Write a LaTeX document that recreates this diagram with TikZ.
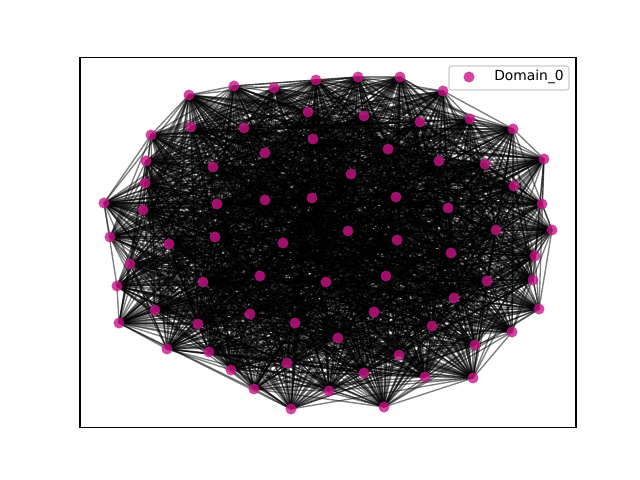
\documentclass[tikz,border=0pt]{standalone}
\usepackage{fontspec}
\newfontfamily\legendfont{DejaVu Sans}
\definecolor{domcol}{RGB}{199,21,133}
\begin{document}
\begin{tikzpicture}[x=0.01in, y=-0.01in,
    edge/.style={draw=black, draw opacity=0.5, line width=1pt},
    dom/.style={circle, inner sep=0pt, minimum size=0.11in, fill=domcol, fill opacity=0.8},
    legendbox/.style={draw={rgb,255:red,204;green,204;blue,204}, fill=white, fill opacity=0.8,
        rounded corners=2pt, line width=0.8pt, minimum width=1.2in, minimum height=0.24in}]
    \useasboundingbox (0,0) rectangle (640,480);
    %node positions
    \foreach \px/\py [count=\k] in {189/95, 234/86, 274/88, 316/80, 308/112, 191/127, 244/128, 313/139,
        151/135, 146/161, 145/183, 265/153, 213/167, 104/203, 143/210, 217/204, 265/200, 312/198,
        110/237, 169/244, 215/237, 283/243, 358/77, 400/77, 443/91, 364/116, 420/122, 470/119,
        513/129, 388/149, 439/161, 485/164, 544/159, 351/174, 514/186, 396/197, 448/208, 542/204,
        348/231, 397/240, 496/230, 552/230, 130/264, 117/286, 203/282, 260/276, 326/282, 155/310,
        119/323, 250/314, 198/324, 295/323, 167/349, 209/352, 287/363, 231/370, 254/389, 329/391,
        291/409, 451/253, 535/256, 386/276, 487/281, 533/280, 454/298, 374/312, 539/309, 432/326,
        512/332, 338/338, 475/345, 399/355, 364/373, 425/377, 473/378, 384/407}
        \coordinate (n\k) at (\px,\py);
    %edges
    \pgfmathsetseed{7}
    \foreach \i in {1,...,75}{
        \pgfmathtruncatemacro\inext{\i+1}
        \foreach \j in {\inext,...,76}{
            \pgfmathrandominteger{\edgeval}{1}{100}
            \ifnum\edgeval<66 \draw[edge] (n\i) -- (n\j);\fi
        }
    }
    %nodes
    \foreach \k in {1,...,76}
        \node[dom] (v\k) at (n\k) {};
    %frame
    \draw[line width=0.8pt] (80,57.6) rectangle (576,427.2);
    %legend
    \node[legendbox] (legend) at (509,78) {};
    \node[dom] (legmark) at (469,77) {};
    \node[anchor=west, inner sep=0pt, font=\legendfont\fontsize{10}{12}\selectfont] (legtext) at (494,77) {Domain\_0};
\end{tikzpicture}
\end{document}
